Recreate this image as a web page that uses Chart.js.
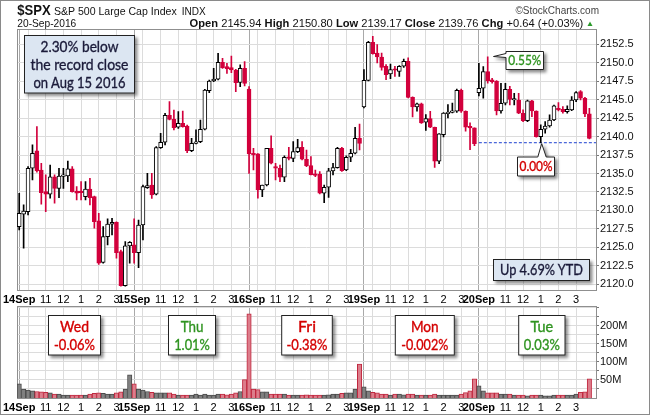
<!DOCTYPE html>
<html>
<head>
<meta charset="utf-8">
<script src="https://cdn.jsdelivr.net/npm/chart.js@4.4.0/dist/chart.umd.min.js"></script>
<style>
  body { margin: 0; background: #fff; }
  #wrap { position: relative; width: 650px; height: 415px; overflow: hidden; background: #fff; }
  #wrap canvas { position: absolute; left: 0; }
  #priceChart { top: 0; width: 650px; height: 305px; }
  #volumeChart { top: 300px; width: 650px; height: 115px; }
  #notes { position: absolute; left: 0; top: 0; pointer-events: none; }
  #frame { position: absolute; left: 0; top: 0; width: 650px; height: 415px; box-sizing: border-box; border: 1px solid #8a8a8a; pointer-events: none; }
  .hdr { font-family: "Liberation Sans", Arial, sans-serif; fill: #111; }
  .note { font-family: Lato, "Open Sans", sans-serif; stroke-width: 0.35px; }
  .navy { fill: #1b1b3a; stroke: #1b1b3a; }
  .red { fill: #d40000; stroke: #d40000; }
  .green { fill: #2f9420; stroke: #2f9420; }
</style>
</head>
<body>
<div id="wrap">
  <canvas id="priceChart" width="650" height="305"></canvas>
  <canvas id="volumeChart" width="650" height="115"></canvas>
  <svg id="notes" width="650" height="415">
    <defs>
      <filter id="sh" x="-20%" y="-20%" width="150%" height="160%">
        <feDropShadow dx="2.5" dy="2.5" stdDeviation="1.4" flood-color="#000" flood-opacity="0.45"/>
      </filter>
    </defs>
    <!-- header -->
    <text class="hdr" x="17.3" y="15" font-size="14.5" font-weight="bold" textLength="33.4" lengthAdjust="spacingAndGlyphs">$SPX</text>
    <text class="hdr" x="54" y="15" font-size="11.5" textLength="122.7" lengthAdjust="spacingAndGlyphs">S&amp;P 500 Large Cap Index</text>
    <text class="hdr" x="181.7" y="15" font-size="10" textLength="24" lengthAdjust="spacingAndGlyphs">INDX</text>
    <text class="hdr" x="599" y="14" font-size="10" text-anchor="end" style="fill:#444">©StockCharts.com</text>
    <text class="hdr" x="17.3" y="27" font-size="10.5" textLength="59" lengthAdjust="spacingAndGlyphs">20-Sep-2016</text>
    <text class="hdr" x="189.6" y="27" font-size="11" textLength="393.7" lengthAdjust="spacingAndGlyphs"><tspan font-weight="bold">Open</tspan> 2145.94 <tspan font-weight="bold">High</tspan> 2150.80 <tspan font-weight="bold">Low</tspan> 2139.17 <tspan font-weight="bold">Close</tspan> 2139.76 <tspan font-weight="bold">Chg</tspan> +0.64 (+0.03%)</text>
    <polygon points="587.5,26 592.5,26 590,21.5" fill="#2a9a2a"/>

    <!-- price panel notes -->
    <rect x="24.5" y="35.5" width="110" height="57.5" fill="#dce6f2" stroke="#222" filter="url(#sh)"/>
    <g class="note navy" font-size="15.5" text-anchor="middle">
      <text x="79.5" y="52" textLength="78" lengthAdjust="spacingAndGlyphs">2.30% below</text>
      <text x="79.5" y="69.5" textLength="98" lengthAdjust="spacingAndGlyphs">the record close</text>
      <text x="79.5" y="87.5" textLength="92" lengthAdjust="spacingAndGlyphs">on Aug 15 2016</text>
    </g>
    <rect x="493.5" y="259.5" width="96" height="21" fill="#dce6f2" stroke="#222" filter="url(#sh)"/>
    <text class="note navy" x="541.5" y="275.3" font-size="16" text-anchor="middle" textLength="83" lengthAdjust="spacingAndGlyphs">Up 4.69% YTD</text>

    <path d="M506,51.5 H543.5 V69.5 H506 V57.5 L493.5,56.5 L506,53.5 Z" fill="#fff" stroke="#222" filter="url(#sh)"/>
    <text class="note green" x="524.8" y="65.2" font-size="13.5" text-anchor="middle" textLength="33" lengthAdjust="spacingAndGlyphs">0.55%</text>
    <path d="M517.5,157 H537.8 L541.7,143.6 L546.2,157 H554.5 V176 H517.5 Z" fill="#fff" stroke="#222" filter="url(#sh)"/>
    <text class="note red" x="536" y="170.5" font-size="13.5" text-anchor="middle" textLength="33" lengthAdjust="spacingAndGlyphs">0.00%</text>

    <!-- volume panel notes -->
    <g font-size="15" text-anchor="middle">
      <rect x="48.5" y="315.5" width="52" height="39.5" fill="#fff" stroke="#222" filter="url(#sh)"/>
      <text class="note red" x="74.5" y="331.7" textLength="29" lengthAdjust="spacingAndGlyphs">Wed</text>
      <text class="note red" x="74.5" y="350" textLength="41" lengthAdjust="spacingAndGlyphs">-0.06%</text>

      <rect x="168.5" y="315.5" width="47" height="39.5" fill="#fff" stroke="#222" filter="url(#sh)"/>
      <text class="note green" x="192" y="331.7" textLength="22.7" lengthAdjust="spacingAndGlyphs">Thu</text>
      <text class="note green" x="192" y="350" textLength="35.7" lengthAdjust="spacingAndGlyphs">1.01%</text>

      <rect x="281.7" y="315.5" width="50.6" height="39.5" fill="#fff" stroke="#222" filter="url(#sh)"/>
      <text class="note red" x="307" y="331.7" textLength="18" lengthAdjust="spacingAndGlyphs">Fri</text>
      <text class="note red" x="307" y="350" textLength="41" lengthAdjust="spacingAndGlyphs">-0.38%</text>

      <rect x="395.3" y="315.5" width="59" height="39.5" fill="#fff" stroke="#222" filter="url(#sh)"/>
      <text class="note red" x="424.8" y="331.7" textLength="27.7" lengthAdjust="spacingAndGlyphs">Mon</text>
      <text class="note red" x="424.8" y="350" textLength="47" lengthAdjust="spacingAndGlyphs">-0.002%</text>

      <rect x="518.7" y="315.5" width="46.3" height="39.5" fill="#fff" stroke="#222" filter="url(#sh)"/>
      <text class="note green" x="541.8" y="331.7" textLength="22.7" lengthAdjust="spacingAndGlyphs">Tue</text>
      <text class="note green" x="541.8" y="350" textLength="36" lengthAdjust="spacingAndGlyphs">0.03%</text>
    </g>
  </svg>
  <div id="frame"></div>
</div>
<script>
// 15-minute bars, 26 per session: 14, 15, 16, 19, 20 Sep 2016
const days = ['14Sep', '15Sep', '16Sep', '19Sep', '20Sep'];
const barsPerDay = 26;
const hourOffsets = [2, 6, 10, 14, 18, 22];
const hourLabels = ['', '11', '12', '1', '2', '3'];

const opens = [
  2127.81, 2129.48, 2129.84, 2135.71, 2138.06, 2135.48, 2132.55, 2132.19, 2134.54, 2133.00, 2134.62, 2134.67, 2135.62, 2132.64, 2132.55, 2131.87, 2132.91, 2131.87, 2128.58, 2122.98, 2126.46, 2128.13, 2128.40, 2124.43, 2119.83, 2125.20,
  2125.33, 2124.29, 2128.03, 2133.09, 2133.45, 2132.19, 2138.50, 2139.23, 2142.88, 2142.34, 2141.26, 2141.80, 2141.44, 2138.10, 2139.09, 2139.32, 2140.99, 2146.22, 2147.53, 2147.76, 2150.06, 2149.47, 2149.33, 2149.02, 2147.35, 2149.24,
  2146.45, 2137.74, 2137.65, 2132.78, 2133.45, 2138.42, 2135.94, 2135.71, 2134.49, 2137.20, 2137.06, 2137.97, 2138.55, 2136.93, 2136.07, 2134.90, 2134.94, 2132.33, 2133.14, 2135.35, 2135.80, 2138.42, 2135.48, 2137.20, 2137.74, 2139.77,
  2144.01, 2147.62, 2152.77, 2151.32, 2150.78, 2149.52, 2148.48, 2149.07, 2148.84, 2149.52, 2150.19, 2145.32, 2144.01, 2144.42, 2141.94, 2142.43, 2141.26, 2136.66, 2140.27, 2143.11, 2143.29, 2143.43, 2146.27, 2143.43, 2141.40, 2141.17,
  2145.94, 2146.54, 2148.80, 2147.67, 2147.53, 2143.47, 2144.51, 2146.41, 2144.96, 2144.96, 2143.16, 2142.16, 2144.83, 2143.47, 2140.00, 2140.99, 2141.44, 2142.25, 2143.83, 2143.70, 2143.38, 2143.61, 2144.96, 2146.09, 2145.19, 2143.07
];
const highs = [
  2132.33, 2130.75, 2135.94, 2138.87, 2141.35, 2136.39, 2134.81, 2136.16, 2134.81, 2135.71, 2135.71, 2136.70, 2135.94, 2133.23, 2133.90, 2133.90, 2134.36, 2131.95, 2129.62, 2127.81, 2128.85, 2128.94, 2128.45, 2124.65, 2125.78, 2125.78,
  2128.85, 2128.71, 2133.45, 2135.03, 2135.03, 2138.64, 2140.44, 2143.15, 2144.73, 2143.60, 2143.38, 2143.47, 2141.57, 2139.77, 2140.90, 2142.25, 2146.40, 2147.66, 2149.24, 2151.27, 2150.60, 2149.92, 2150.91, 2149.11, 2149.70, 2150.15,
  2146.77, 2138.42, 2137.70, 2133.45, 2138.42, 2140.09, 2136.39, 2136.16, 2137.38, 2138.55, 2139.32, 2139.64, 2139.32, 2138.19, 2137.29, 2135.48, 2135.26, 2133.45, 2135.71, 2136.39, 2138.55, 2138.55, 2137.38, 2138.28, 2141.26, 2141.71,
  2149.07, 2152.90, 2153.58, 2152.45, 2151.32, 2149.74, 2149.83, 2149.52, 2149.60, 2150.51, 2150.65, 2145.40, 2144.55, 2144.55, 2142.97, 2143.43, 2141.30, 2140.40, 2143.25, 2144.33, 2144.55, 2146.45, 2146.45, 2143.50, 2141.85, 2141.20,
  2149.92, 2149.48, 2150.80, 2147.89, 2147.60, 2147.22, 2147.22, 2146.80, 2145.86, 2145.86, 2143.61, 2144.96, 2144.90, 2143.50, 2141.58, 2142.03, 2142.93, 2144.28, 2144.60, 2144.06, 2144.15, 2145.41, 2146.09, 2146.23, 2145.30, 2143.83
];
const lows = [
  2127.36, 2124.88, 2129.39, 2134.13, 2135.17, 2130.84, 2129.84, 2131.65, 2130.97, 2131.74, 2133.00, 2133.90, 2132.46, 2131.42, 2131.42, 2131.42, 2130.75, 2127.59, 2122.71, 2122.85, 2125.33, 2126.68, 2123.53, 2119.75, 2119.75, 2122.85,
  2122.85, 2122.26, 2126.00, 2133.00, 2131.64, 2132.10, 2138.41, 2138.87, 2142.25, 2140.90, 2141.12, 2141.26, 2137.83, 2137.96, 2139.00, 2139.18, 2140.90, 2145.95, 2147.44, 2147.66, 2149.24, 2148.57, 2148.66, 2146.09, 2146.76, 2146.85,
  2135.03, 2135.48, 2131.65, 2131.87, 2133.32, 2136.30, 2134.13, 2133.90, 2133.90, 2136.84, 2136.61, 2137.83, 2136.84, 2135.94, 2134.81, 2134.58, 2132.24, 2131.06, 2131.78, 2134.81, 2135.71, 2135.30, 2135.40, 2136.61, 2137.65, 2138.19,
  2143.88, 2147.55, 2151.15, 2149.97, 2148.98, 2147.71, 2147.85, 2148.16, 2148.16, 2149.38, 2145.23, 2142.66, 2143.43, 2141.80, 2140.85, 2141.20, 2135.84, 2136.34, 2139.95, 2142.52, 2143.20, 2143.29, 2143.29, 2140.72, 2138.24, 2138.78,
  2145.50, 2145.19, 2147.22, 2147.22, 2142.93, 2143.16, 2144.28, 2144.28, 2144.28, 2143.10, 2142.03, 2142.03, 2142.70, 2139.91, 2139.17, 2140.45, 2141.26, 2142.16, 2143.47, 2143.16, 2143.16, 2143.52, 2144.74, 2144.96, 2142.71, 2139.70
];
const closes = [
  2129.62, 2129.93, 2135.71, 2137.74, 2135.35, 2132.42, 2132.19, 2134.54, 2133.00, 2134.67, 2134.67, 2135.62, 2132.55, 2132.33, 2132.42, 2132.91, 2131.74, 2128.49, 2122.85, 2126.46, 2128.17, 2128.40, 2124.29, 2119.83, 2125.20, 2125.69,
  2124.29, 2128.03, 2133.22, 2133.36, 2132.10, 2138.50, 2139.23, 2142.88, 2142.34, 2141.21, 2141.80, 2141.35, 2138.10, 2139.09, 2139.23, 2140.99, 2146.31, 2147.53, 2147.80, 2150.06, 2149.33, 2149.20, 2149.02, 2147.30, 2149.24, 2147.21,
  2137.65, 2137.52, 2132.78, 2133.45, 2138.42, 2136.39, 2135.71, 2134.49, 2137.20, 2137.06, 2137.97, 2138.51, 2136.93, 2136.07, 2134.85, 2134.76, 2132.33, 2133.14, 2135.35, 2135.80, 2138.42, 2135.39, 2137.20, 2137.74, 2139.77, 2139.09,
  2147.62, 2152.77, 2151.23, 2150.78, 2149.38, 2148.39, 2149.07, 2148.98, 2149.52, 2150.19, 2145.32, 2144.01, 2144.42, 2141.85, 2142.43, 2141.26, 2136.66, 2140.36, 2143.20, 2143.29, 2143.43, 2146.27, 2143.43, 2141.26, 2141.17, 2139.05,
  2146.54, 2148.80, 2147.58, 2147.44, 2143.47, 2144.51, 2146.41, 2145.05, 2145.05, 2143.16, 2142.16, 2144.83, 2143.47, 2140.00, 2140.99, 2141.44, 2142.25, 2144.15, 2143.61, 2143.38, 2143.70, 2144.96, 2145.95, 2145.19, 2143.07, 2139.76
];
// volume in millions
const volumes = [
  39, 25, 22, 20, 18, 17, 16, 14, 11, 11, 8, 8, 8, 8, 8, 8, 11, 13, 14, 13, 11, 11, 14, 17, 25, 64,
  39, 25, 22, 18, 16, 14, 14, 14, 14, 11, 8, 8, 8, 8, 11, 8, 11, 8, 8, 11, 11, 9, 11, 14, 18, 51,
  233, 25, 23, 17, 17, 11, 11, 11, 11, 8, 8, 8, 8, 9, 8, 8, 8, 8, 9, 11, 11, 13, 14, 14, 25, 94,
  31, 20, 16, 14, 11, 11, 8, 11, 11, 9, 11, 11, 8, 8, 8, 8, 11, 8, 8, 8, 8, 8, 11, 15, 20, 53,
  34, 20, 14, 14, 14, 11, 11, 11, 8, 8, 8, 6, 8, 8, 8, 6, 6, 8, 8, 8, 8, 8, 11, 16, 17, 53
];
const priceTicks = [2120.0, 2122.5, 2125.0, 2127.5, 2130.0, 2132.5, 2135.0, 2137.5, 2140.0, 2142.5, 2145.0, 2147.5, 2150.0, 2152.5];
const volumeTicks = [25, 50, 75, 100, 125, 150, 175, 200, 225, 250];
const volumeLabelled = [50, 100, 150, 200];
const lastLow = 2139.17;
const lastLowFrom = 104;

const FONT = 'Liberation Sans, Arial, sans-serif';
const RED = '#d2003c';

// x ticks: session start + hourly marks
const xTicks = [];
days.forEach((d, di) => {
  xTicks.push({ value: di * barsPerDay, label: d, day: true });
  hourOffsets.forEach((off, k) => {
    xTicks.push({ value: di * barsPerDay + off, label: hourLabels[k], day: false });
  });
});
function tickInfo(v) {
  return xTicks.find(t => t.value === v);
}
function isDay(v) {
  const t = tickInfo(v);
  return t ? t.day : false;
}

const up = closes.map((c, i) => c >= opens[i]);

const framePlugin = {
  id: 'frame',
  beforeDatasetsDraw(chart) {
    const a = chart.chartArea;
    const ctx = chart.ctx;
    ctx.save();
    ctx.strokeStyle = '#8f8f8f';
    ctx.lineWidth = 1;
    ctx.strokeRect(Math.floor(a.left) + 0.5, Math.floor(a.top) + 0.5, Math.round(a.right - a.left), Math.round(a.bottom - a.top));
    ctx.restore();
  }
};

function xScale(height) {
  return {
    type: 'linear',
    min: -0.5,
    max: 130.5,
    offset: false,
    afterBuildTicks: s => { s.ticks = xTicks.map(t => ({ value: t.value })); },
    afterFit: s => { s.height = height; s.paddingLeft = 0; s.paddingRight = 0; },
    ticks: {
      autoSkip: false,
      maxRotation: 0,
      padding: 3,
      color: '#000',
      callback: v => { const t = tickInfo(v); return t ? t.label : ''; },
      font: c => ({ family: FONT, size: 11, weight: isDay(c.tick && c.tick.value) ? 'bold' : 'normal' })
    },
    grid: {
      offset: false,
      drawTicks: false,
      color: c => isDay(c.tick && c.tick.value) ? '#a9a9a9' : '#dcdcdc'
    },
    border: { display: false }
  };
}

new Chart(document.getElementById('priceChart'), {
  type: 'bar',
  data: {
    datasets: [
      {
        label: 'Body',
        data: opens.map((o, i) => ({ x: i, y: [o, closes[i]] })),
        backgroundColor: up.map(u => u ? '#ffffff' : RED),
        borderColor: up.map(u => u ? '#000000' : RED),
        borderWidth: 1,
        borderSkipped: false,
        barThickness: 4,
        minBarLength: 1.5,
        grouped: false
      },
      {
        label: 'Wick',
        data: lows.map((l, i) => ({ x: i, y: [l, highs[i]] })),
        backgroundColor: up.map(u => u ? '#000000' : RED),
        borderWidth: 0,
        barThickness: 1,
        grouped: false
      },
      {
        type: 'line',
        label: 'Low',
        data: [{ x: lastLowFrom, y: lastLow }, { x: 130.5, y: lastLow }],
        borderColor: '#1c3fd0',
        borderWidth: 1,
        borderDash: [3, 2],
        pointRadius: 0
      }
    ]
  },
  options: {
    responsive: false,
    animation: false,
    layout: { padding: { left: 17, top: 29.5, right: 0, bottom: 0 } },
    plugins: { legend: { display: false }, tooltip: { enabled: false } },
    scales: {
      x: xScale(15),
      y: {
        position: 'right',
        min: 2119.23,
        max: 2154.5,
        afterBuildTicks: s => { s.ticks = priceTicks.map(v => ({ value: v })); },
        afterFit: s => { s.width = 54; s.paddingTop = 0; s.paddingBottom = 0; },
        ticks: { autoSkip: false, padding: 1, color: '#111', font: { family: FONT, size: 11 }, callback: v => v.toFixed(1) },
        grid: { color: '#dcdcdc', tickLength: 3, tickColor: '#777' },
        border: { display: false }
      }
    }
  },
  plugins: [framePlugin]
});

new Chart(document.getElementById('volumeChart'), {
  type: 'bar',
  data: {
    datasets: [{
      label: 'Volume',
      data: volumes.map((v, i) => ({ x: i, y: v })),
      backgroundColor: up.map(u => u ? '#808080' : '#dc7d8b'),
      borderColor: up.map(u => u ? '#4a4a4a' : '#c0283f'),
      borderWidth: 1,
      barPercentage: 1,
      categoryPercentage: 1
    }]
  },
  options: {
    responsive: false,
    animation: false,
    layout: { padding: { left: 17, top: 6, right: 0, bottom: 0 } },
    plugins: { legend: { display: false }, tooltip: { enabled: false } },
    scales: {
      x: xScale(17),
      y: {
        position: 'right',
        min: 0,
        max: 255,
        afterBuildTicks: s => { s.ticks = volumeTicks.map(v => ({ value: v })); },
        afterFit: s => { s.width = 54; s.paddingTop = 0; s.paddingBottom = 0; },
        ticks: {
          autoSkip: false,
          padding: 1,
          color: '#111',
          font: { family: FONT, size: 11 },
          callback: v => volumeLabelled.includes(v) ? v + 'M' : ''
        },
        grid: { color: '#dcdcdc', tickLength: 3, tickColor: '#777' },
        border: { display: false }
      }
    }
  },
  plugins: [framePlugin]
});
</script>
</body>
</html>
